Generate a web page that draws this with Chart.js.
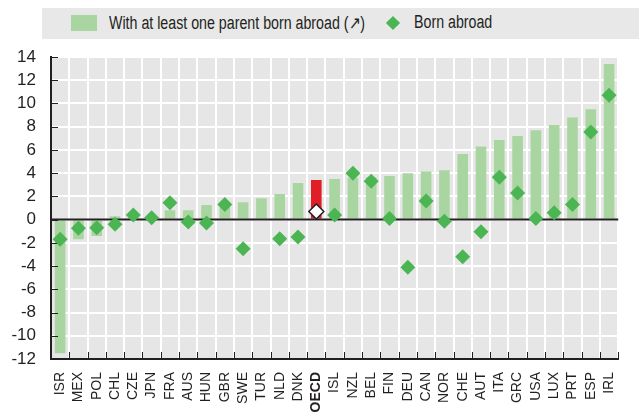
<!DOCTYPE html>
<html>
<head>
<meta charset="utf-8">
<script src="https://cdn.jsdelivr.net/npm/chart.js@4"></script>
<style>
	body { margin: 0; background: #fff; }
	#wrap { position: relative; width: 639px; height: 415px; }
	#legend {
		position: absolute; left: 42px; top: 8px; width: 597px; height: 31px;
		background: #e8e8e8; font-family: "Liberation Sans", Arial, sans-serif;
		font-size: 18px; color: #231f20;
	}
	#legend .sw { position: absolute; left: 29px; top: 7px; width: 26px; height: 16px; background: #a9d5a0; }
	#legend .txt { position: absolute; top: 4px; white-space: nowrap; transform: scaleX(0.79); transform-origin: 0 0; }
	#legend .t1 { left: 67px; }
	#legend .t2 { left: 372px; }
	#legend .dm { position: absolute; left: 346px; top: 10px; width: 10px; height: 10px; background: #4cb553; transform: rotate(45deg); }
	canvas { position: absolute; left: 0; top: 0; }
</style>
</head>
<body>
<div id="wrap">
	<canvas id="chart" width="639" height="415"></canvas>
	<div id="legend">
		<div class="sw"></div><div class="txt t1">With at least one parent born abroad (↗)</div>
		<div class="dm"></div><div class="txt t2">Born abroad</div>
	</div>
</div>
<script>
const countries = ["ISR", "MEX", "POL", "CHL", "CZE", "JPN", "FRA", "AUS", "HUN", "GBR", "SWE", "TUR", "NLD", "DNK", "OECD", "ISL", "NZL", "BEL", "FIN", "DEU", "CAN", "NOR", "CHE", "AUT", "ITA", "GRC", "USA", "LUX", "PRT", "ESP", "IRL"];

// With at least one parent born abroad
const parentAbroad = [-11.5, -1.7, -1.4, 0.3, 0.3, 0.1, 0.8, 0.8, 1.25, 1.2, 1.5, 1.85, 2.2, 3.15, 3.4, 3.5, 3.6, 3.65, 3.75, 4.0, 4.15, 4.25, 5.65, 6.3, 6.85, 7.2, 7.7, 8.15, 8.8, 9.5, 13.4];

// Born abroad
const bornAbroad = [-1.7, -0.75, -0.7, -0.4, 0.4, 0.15, 1.45, -0.2, -0.3, 1.3, -2.5, null, -1.65, -1.5, 0.7, 0.4, 4.0, 3.3, 0.1, -4.1, 1.6, -0.15, -3.2, -1.05, 3.65, 2.3, 0.1, 0.6, 1.3, 7.55, 10.7];

const yTicks = [-12, 14, 2]; // min, max, step

const FONT = "'Liberation Sans', Arial, sans-serif";
const oecd = countries.indexOf("OECD");

// grey plot background, zero line over the bars, small inward ticks
const plotDeco = {
	id: "plotDeco",
	beforeDraw(chart) {
		const { ctx, chartArea: a } = chart;
		ctx.save();
		ctx.fillStyle = "#e6e6e6";
		ctx.fillRect(a.left, a.top, a.right - a.left, a.bottom - a.top);
		ctx.restore();
	},
	afterDatasetDraw(chart, args) {
		if (args.index !== 1) return;
		const { ctx, chartArea: a, scales } = chart;
		const y0 = scales.y.getPixelForValue(0);
		ctx.save();
		ctx.strokeStyle = "#231f20";
		ctx.lineWidth = 2;
		ctx.beginPath();
		ctx.moveTo(a.left, y0);
		ctx.lineTo(a.right, y0);
		ctx.stroke();
		const w = (a.right - a.left) / countries.length;
		ctx.lineWidth = 1;
		ctx.beginPath();
		for (let i = 1; i <= countries.length; i++) {
			const x = Math.round(a.left + i * w) + 0.5;
			ctx.moveTo(x, a.bottom);
			ctx.lineTo(x, a.bottom - 7);
		}
		for (let v = yTicks[0]; v <= yTicks[1]; v += yTicks[2]) {
			const y = Math.round(scales.y.getPixelForValue(v)) + 0.5;
			ctx.moveTo(a.left, y);
			ctx.lineTo(a.left + 7, y);
		}
		ctx.stroke();
		ctx.restore();
	}
};

new Chart(document.getElementById("chart"), {
	data: {
		labels: countries,
		datasets: [
			{
				type: "line",
				label: "Born abroad",
				data: bornAbroad,
				showLine: false,
				pointStyle: "rectRot",
				pointRadius: 7.5,
				pointBackgroundColor: countries.map((c, i) => (i === oecd ? "#ffffff" : "#4cb553")),
				pointBorderColor: countries.map((c, i) => (i === oecd ? "#231f20" : "#4cb553")),
				pointBorderWidth: countries.map((c, i) => (i === oecd ? 1.5 : 0)),
				order: 0,
			},
			{
				type: "bar",
				label: "With at least one parent born abroad",
				data: parentAbroad,
				backgroundColor: countries.map((c, i) => (i === oecd ? "#e11d25" : "#a9d5a0")),
				categoryPercentage: 1,
				barPercentage: 0.58,
				order: 1,
			},
		],
	},
	options: {
		responsive: false,
		animation: false,
		layout: { padding: { top: 57, right: 4, left: 0, bottom: 0 } },
		plugins: {
			legend: { display: false },
			tooltip: { enabled: false },
		},
		scales: {
			x: {
				offset: true,
				grid: { color: "#ffffff", lineWidth: 2, drawTicks: false, offset: true },
				border: { display: true, color: "#231f20", width: 2 },
				ticks: {
					autoSkip: false,
					maxRotation: 90,
					minRotation: 90,
					padding: 13,
					color: "#231f20",
					font: (ctx) => ({ family: FONT, size: 14, weight: ctx.index === oecd ? "bold" : "normal" }),
				},
				afterFit: (scale) => { scale.height = 56; },
			},
			y: {
				min: yTicks[0],
				max: yTicks[1],
				grid: { color: "#ffffff", lineWidth: 2, drawTicks: false },
				border: { display: true, color: "#231f20", width: 2 },
				ticks: {
					autoSkip: false,
					stepSize: yTicks[2],
					padding: 15,
					color: "#231f20",
					font: { family: FONT, size: 17 },
				},
				afterFit: (scale) => { scale.width = 51; },
			},
		},
	},
	plugins: [plotDeco],
});
</script>
</body>
</html>
